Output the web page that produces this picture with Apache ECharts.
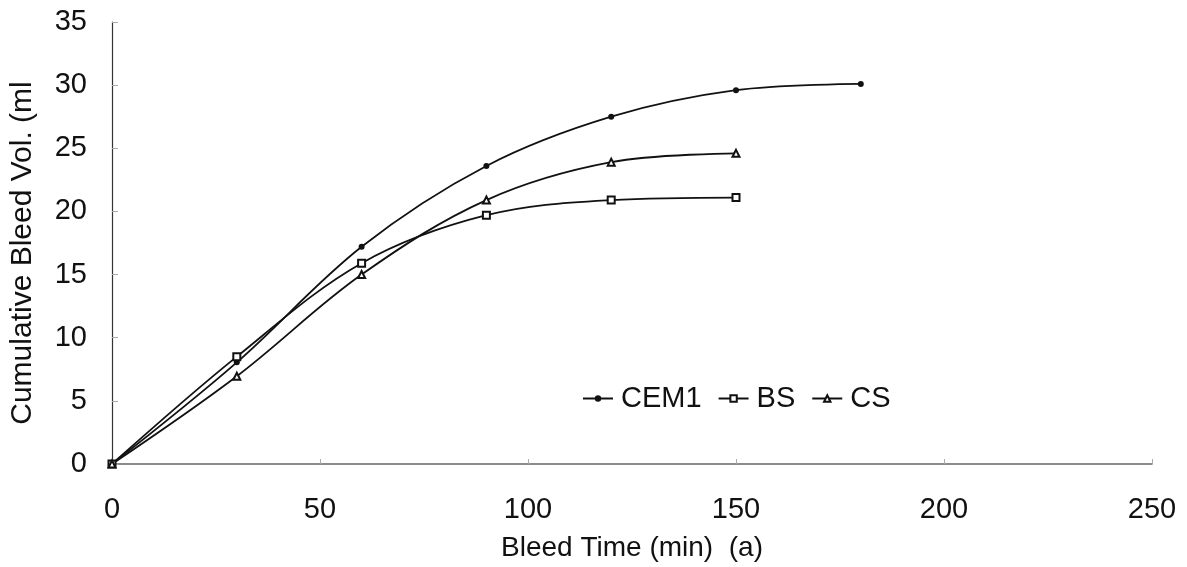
<!DOCTYPE html>
<html><head><meta charset="utf-8">
<script src="https://cdn.jsdelivr.net/npm/echarts@6/dist/echarts.min.js"></script>
<style>html,body{margin:0;padding:0;background:#fff}#c{width:1187px;height:567px}</style>
</head><body><div id="c"></div>
<script>
const times = [0, 30, 60, 90, 120, 150, 180];
const cem1 = [0, 8.05, 17.2, 23.6, 27.5, 29.6, 30.1];
const bs = [0, 8.5, 15.9, 19.7, 20.9, 21.1];
const cs = [0, 6.95, 15.0, 20.9, 23.9, 24.6];
const seriesNames = ['CEM1', 'BS', 'CS'];
const font = 'Liberation Sans, Arial, sans-serif';

function pairs(vals){ return vals.map((v,i)=>[times[i], v]); }
const chart = echarts.init(document.getElementById('c'));
const lineStyle = {color:'#111', width:1.8};
chart.setOption({
  animation:false,
  backgroundColor:'#fff',
  grid:{left:112, right:35, top:22, bottom:102},
  legend:{
    left:577, top:379, itemGap:16, itemWidth:30, itemHeight:8,
    textStyle:{fontFamily:font, fontSize:29, color:'#111', padding:[0,0,0,3]},
    data:seriesNames
  },
  xAxis:{
    type:'value', min:0, max:250, interval:50,
    name:'Bleed Time (min)  (a)', nameLocation:'middle', nameGap:70,
    nameTextStyle:{fontFamily:font, fontSize:28, color:'#111'},
    axisLine:{lineStyle:{color:'#666', width:1.5}},
    axisTick:{inside:true, length:5, lineStyle:{color:'#aaa'}},
    axisLabel:{fontFamily:font, fontSize:29, color:'#111', margin:31},
    splitLine:{show:false}
  },
  yAxis:{
    type:'value', min:0, max:35, interval:5,
    name:'Cumulative Bleed Vol. (ml', nameLocation:'middle', nameGap:74,
    nameTextStyle:{fontFamily:font, fontSize:30, color:'#111', padding:[0,20,0,0]},
    axisLine:{show:true, lineStyle:{color:'#333', width:1.2}},
    axisTick:{show:true, inside:true, length:6, lineStyle:{color:'#aaa'}},
    axisLabel:{fontFamily:font, fontSize:29, color:'#111', margin:25},
    splitLine:{show:false}
  },
  series:[
    {name:seriesNames[0], type:'line', data:pairs(cem1), smooth:0.35,
     symbol:'circle', symbolSize:6, itemStyle:{color:'#111'}, lineStyle},
    {name:seriesNames[1], type:'line', data:pairs(bs), smooth:0.35,
     symbol:'emptyRect', symbolSize:7, itemStyle:{color:'#111', borderWidth:1.2}, lineStyle},
    {name:seriesNames[2], type:'line', data:pairs(cs), smooth:0.35,
     symbol:'emptyTriangle', symbolSize:7, itemStyle:{color:'#111', borderWidth:1.2}, lineStyle}
  ]
});
</script></body></html>
